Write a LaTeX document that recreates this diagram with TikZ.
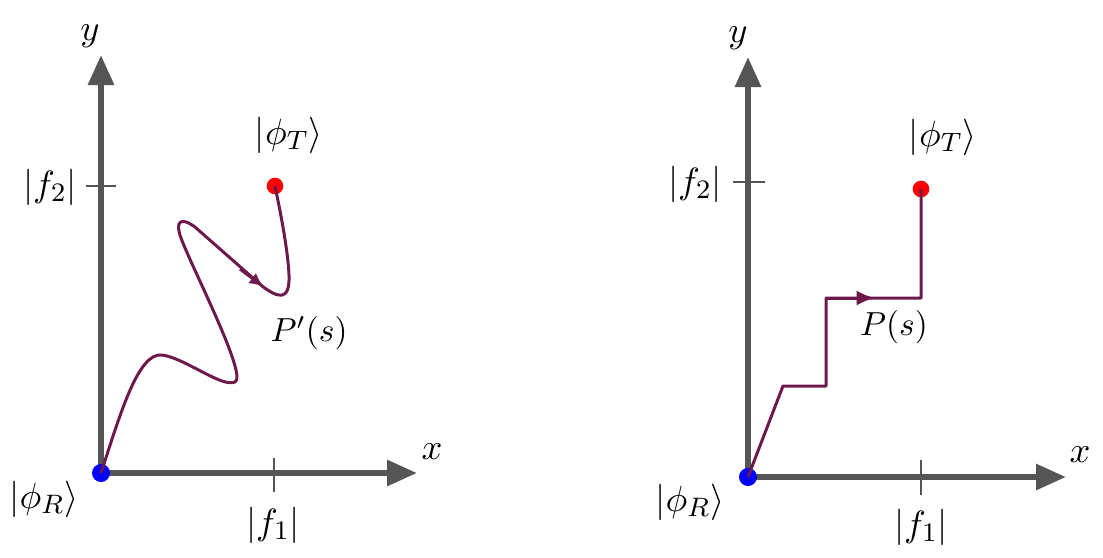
\documentclass[tikz,border=0pt]{standalone}
\usetikzlibrary{arrows.meta}
\definecolor{axgray}{RGB}{85,85,85}
\definecolor{pathc}{RGB}{110,25,75}
\begin{document}
\begin{tikzpicture}[x=0.3pt,y=-0.3pt,
  axis/.style={line width=1.8pt, draw=axgray, -{Triangle[length=9pt,width=7.5pt]}},
  tickmark/.style={line width=0.5pt, draw=axgray},
  trail/.style={line width=0.9pt, draw=pathc, line join=round},
  lbl/.style={font=\fontsize{11}{13}\selectfont, inner sep=0pt},
  plbl/.style={font=\fontsize{10}{12}\selectfont, inner sep=0pt},
  dot/.style={circle, inner sep=0pt, minimum size=5pt}]
\useasboundingbox (0,0) rectangle (1103,557);
% ---------- left panel ----------
\coordinate (oL) at (101,473);
\coordinate (yL) at (101,55);
\coordinate (xL) at (417,473);
\draw[axis] (oL) -- (yL);
\draw[axis] (oL) -- (xL);
\coordinate (ty1a) at (86,186); \coordinate (ty1b) at (116,186);
\coordinate (tx1a) at (274,458); \coordinate (tx1b) at (274,492);
\draw[tickmark] (ty1a) -- (ty1b);
\draw[tickmark] (tx1a) -- (tx1b);
\node[dot,fill=blue,minimum size=5.4pt] (RL) at (101,473) {};
\node[dot,fill=red] (TL) at (275,186) {};
\draw[trail] (RL.center) .. controls (120,415) and (138,352) .. (162,355)
  .. controls (185,358) and (222,388) .. (235,382)
  .. controls (248,376) and (192,268) .. (181,238)
  .. controls (175,222) and (180,216) .. (195,227)
  -- (262,286)
  .. controls (278,298) and (290,302) .. (289,275)
  .. controls (288,250) and (280,210) .. (TL.center);
\coordinate (aL1) at (240,269);
\coordinate (aL2) at (264,287);
\draw[trail,-{Latex[length=4.4pt,width=3.8pt]}] (aL1) -- (aL2);
\node[lbl] (yLab) at (90,36) {$y$};
\node[lbl] (xLab) at (432,452) {$x$};
\node[lbl] (f2L) at (50,187) {$|f_2|$};
\node[lbl] (f1L) at (273,525) {$|f_1|$};
\node[lbl] (phRL) at (44,499) {$|\phi_R\rangle$};
\node[lbl] (phTL) at (289,135) {$|\phi_T\rangle$};
\node[plbl] (PpL) at (309,333) {$P'(s)$};
% ---------- right panel ----------
\coordinate (oR) at (748,477);
\coordinate (yR) at (748,57);
\coordinate (xR) at (1066,477);
\draw[axis] (oR) -- (yR);
\draw[axis] (oR) -- (xR);
\coordinate (ty2a) at (733,182); \coordinate (ty2b) at (765,182);
\coordinate (tx2a) at (921,460); \coordinate (tx2b) at (921,495);
\draw[tickmark] (ty2a) -- (ty2b);
\draw[tickmark] (tx2a) -- (tx2b);
\node[dot,fill=blue,minimum size=5.4pt] (RR) at (748,477) {};
\node[dot,fill=red] (TR) at (921,189) {};
\coordinate (s1) at (783,386);
\coordinate (s2) at (826,386);
\coordinate (s3) at (826,298);
\coordinate (s4) at (921,298);
\draw[trail] (RR.center) -- (s1) -- (s2) -- (s3) -- (s4) -- (TR.center);
\coordinate (aR) at (875,298);
\draw[trail,-{Latex[length=5.5pt,width=4.5pt]}] (s3) -- (aR);
\node[lbl] (yLabR) at (738,38) {$y$};
\node[lbl] (xLabR) at (1080,455) {$x$};
\node[lbl] (f2R) at (695,184) {$|f_2|$};
\node[lbl] (f1R) at (921,527) {$|f_1|$};
\node[lbl] (phRR) at (690,502) {$|\phi_R\rangle$};
\node[lbl] (phTR) at (943,137) {$|\phi_T\rangle$};
\node[plbl] (PR) at (894,327) {$P(s)$};
\end{tikzpicture}
\end{document}
